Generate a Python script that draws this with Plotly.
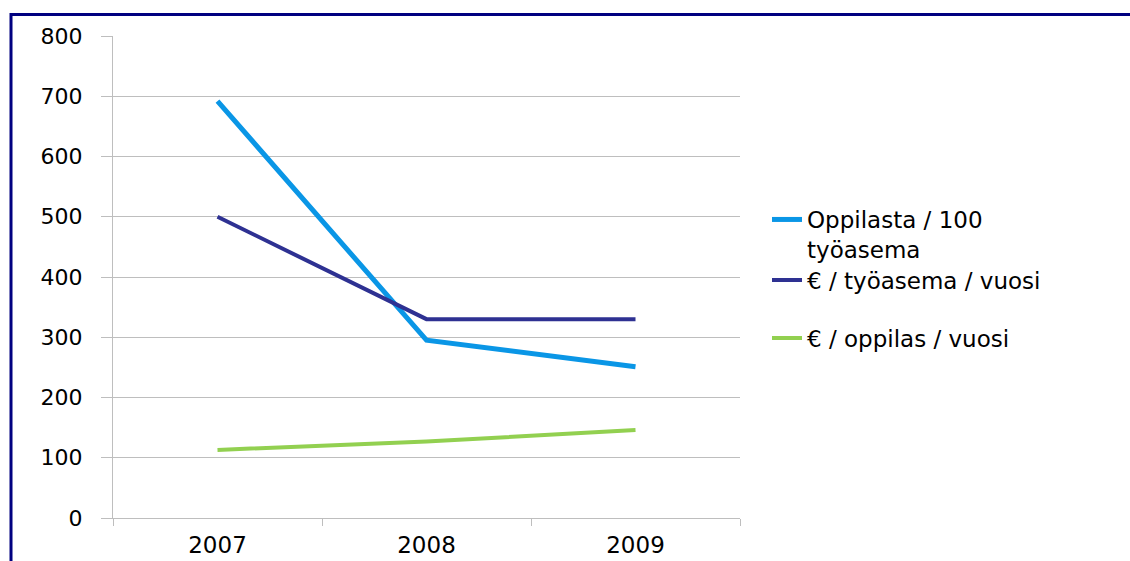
import plotly.graph_objects as go

years = ["2007", "2008", "2009"]
oppilasta = [692, 295, 251]
eur_tyoasema = [500, 330, 330]
eur_oppilas = [113, 127, 146]
names = ["Oppilasta / 100<br>työasema", "€ / työasema / vuosi", "€ / oppilas / vuosi"]
colors = ["#0A96E6", "#2E3192", "#92D050"]
widths = [5, 4, 4]
series = [oppilasta, eur_tyoasema, eur_oppilas]
legends = ["legend", "legend2", "legend3"]

fig = go.Figure()
for s, n, c, w, lg in zip(series, names, colors, widths, legends):
    fig.add_trace(go.Scatter(x=years, y=s, name=n, mode="lines", showlegend=True,
                             line=dict(color=c, width=w), legend=lg))

L, R, T, B = 113, 390, 36, 43
W, H = 1130, 561
pw, ph = W - L - R, H - T - B

def px(x):
    return (x - L) / pw

def py(y):
    return (H - B - y) / ph

FAM = "DejaVu Sans, Liberation Sans, Arial, sans-serif"
font = dict(family=FAM, size=23, color="#000000")
leg_common = dict(font=font, bgcolor="rgba(0,0,0,0)", xanchor="left",
                  valign="top", itemwidth=30, tracegroupgap=0)

fig.update_layout(
    width=W, height=H,
    margin=dict(l=L, r=R, t=T, b=B, pad=0),
    paper_bgcolor="white", plot_bgcolor="white",
    font=font,
    showlegend=True,
    legend=dict(x=px(767), y=py(198), yanchor="top", **leg_common),
    legend2=dict(x=px(767), y=py(280), yanchor="middle", **leg_common),
    legend3=dict(x=px(767), y=py(338), yanchor="middle", **leg_common),
    xaxis=dict(type="category", range=[-0.5, 2.5], showgrid=False, automargin=False,
               showline=True, linecolor="#BEBEBE", linewidth=1,
               ticks="outside", tickson="boundaries", ticklen=7, tickcolor="#BEBEBE",
               tickfont=dict(family=FAM, size=23, color="#000"),
               ticklabelstandoff=6, zeroline=False),
    yaxis=dict(range=[0, 800], dtick=100, showgrid=True, gridcolor="#BEBEBE", gridwidth=1,
               showline=True, linecolor="#BEBEBE", linewidth=1, automargin=False,
               ticks="outside", ticklen=11, tickcolor="#BEBEBE",
               tickfont=dict(family=FAM, size=22, color="#000"),
               ticklabelstandoff=14, zeroline=False),
    shapes=[
        dict(type="line", xref="paper", yref="paper", x0=px(10), x1=px(1135),
             y0=py(14.5), y1=py(14.5), line=dict(color="#000080", width=3)),
        dict(type="line", xref="paper", yref="paper", x0=px(11), x1=px(11),
             y0=py(13), y1=py(570), line=dict(color="#000080", width=3)),
    ],
)

fig.write_html("out.html")
